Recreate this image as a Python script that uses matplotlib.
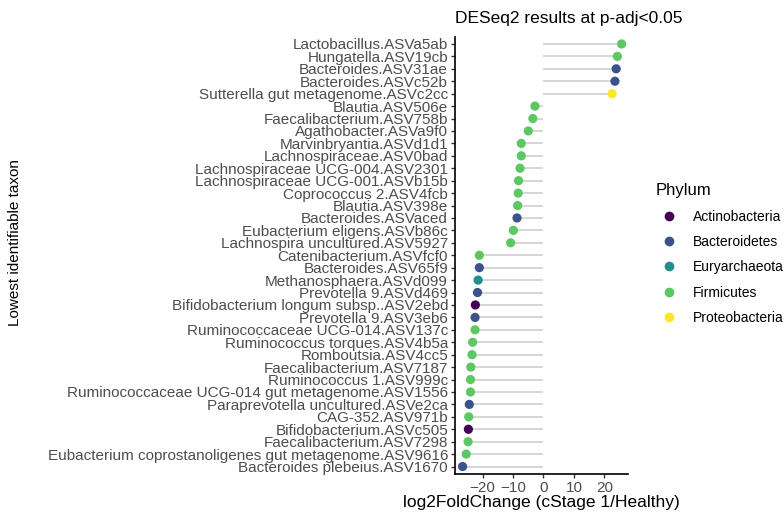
import matplotlib.pyplot as plt
from matplotlib.lines import Line2D

plt.rcParams['font.family'] = ['Liberation Sans', 'DejaVu Sans']

taxa = [
    'Lactobacillus.ASVa5ab', 'Hungatella.ASV19cb', 'Bacteroides.ASV31ae',
    'Bacteroides.ASVc52b', 'Sutterella gut metagenome.ASVc2cc', 'Blautia.ASV506e',
    'Faecalibacterium.ASV758b', 'Agathobacter.ASVa9f0', 'Marvinbryantia.ASVd1d1',
    'Lachnospiraceae.ASV0bad', 'Lachnospiraceae UCG-004.ASV2301',
    'Lachnospiraceae UCG-001.ASVb15b', 'Coprococcus 2.ASV4fcb', 'Blautia.ASV398e',
    'Bacteroides.ASVaced', 'Eubacterium eligens.ASVb86c',
    'Lachnospira uncultured.ASV5927', 'Catenibacterium.ASVfcf0',
    'Bacteroides.ASV65f9', 'Methanosphaera.ASVd099', 'Prevotella 9.ASVd469',
    'Bifidobacterium longum subsp..ASV2ebd', 'Prevotella 9.ASV3eb6',
    'Ruminococcaceae UCG-014.ASV137c', 'Ruminococcus torques.ASV4b5a',
    'Romboutsia.ASV4cc5', 'Faecalibacterium.ASV7187', 'Ruminococcus 1.ASV999c',
    'Ruminococcaceae UCG-014 gut metagenome.ASV1556',
    'Paraprevotella uncultured.ASVe2ca', 'CAG-352.ASV971b',
    'Bifidobacterium.ASVc505', 'Faecalibacterium.ASV7298',
    'Eubacterium coprostanoligenes gut metagenome.ASV9616',
    'Bacteroides plebeius.ASV1670',
]
lfc = [25.7, 24.3, 23.9, 23.5, 22.6, -2.8, -3.5, -5.0, -7.3, -7.3, -7.7, -8.2,
       -8.3, -8.5, -8.7, -9.9, -10.8, -21.1, -21.1, -21.5, -21.7, -22.4, -22.5,
       -22.5, -23.3, -23.5, -23.9, -24.0, -24.0, -24.4, -24.6, -24.7, -24.8,
       -25.4, -26.6]
phylum = ['Firmicutes', 'Firmicutes', 'Bacteroidetes', 'Bacteroidetes',
          'Proteobacteria', 'Firmicutes', 'Firmicutes', 'Firmicutes', 'Firmicutes',
          'Firmicutes', 'Firmicutes', 'Firmicutes', 'Firmicutes', 'Firmicutes',
          'Bacteroidetes', 'Firmicutes', 'Firmicutes', 'Firmicutes', 'Bacteroidetes',
          'Euryarchaeota', 'Bacteroidetes', 'Actinobacteria', 'Bacteroidetes',
          'Firmicutes', 'Firmicutes', 'Firmicutes', 'Firmicutes', 'Firmicutes',
          'Firmicutes', 'Bacteroidetes', 'Firmicutes', 'Actinobacteria',
          'Firmicutes', 'Firmicutes', 'Bacteroidetes']

phyla = ['Actinobacteria', 'Bacteroidetes', 'Euryarchaeota', 'Firmicutes', 'Proteobacteria']
pal = {'Actinobacteria': '#440154', 'Bacteroidetes': '#3B528B',
       'Euryarchaeota': '#21908C', 'Firmicutes': '#5DC863',
       'Proteobacteria': '#FDE725'}

fig = plt.figure(figsize=(7.84, 5.14), dpi=100)
ax = fig.add_axes([455 / 784, 1 - 474 / 514, (628 - 455) / 784, (474 - 36.5) / 514])

n = len(taxa)
ypos = list(range(n, 0, -1))
ax.hlines(ypos, 0, lfc, color='#D3D3D3', lw=1.3, zorder=1)
ax.scatter(lfc, ypos, c=[pal[p] for p in phylum], s=44, zorder=2, linewidths=0)

ax.set_ylim(0.4, n + 0.6)
ax.set_xlim(-29.1, 27.8)
ax.set_yticks(ypos)
ax.set_yticklabels(taxa)
ax.set_xticks([-20, -10, 0, 10, 20])
ax.tick_params(axis='both', colors='#333333', labelcolor='#4D4D4D',
               labelsize=11, length=3, width=1, pad=2)
for s in ['top', 'right']:
    ax.spines[s].set_visible(False)
for s in ['left', 'bottom']:
    ax.spines[s].set_linewidth(1.2)

ax.set_xlabel('log2FoldChange (cStage 1/Healthy)', fontsize=12.5, labelpad=0)
ax.set_title('DESeq2 results at p-adj<0.05', fontsize=12.5, loc='center', pad=10,
             x=0.655)
fig.text(0.019, 1 - 243 / 514, 'Lowest identifiable taxon', rotation=90,
         fontsize=11, va='center', ha='center')

handles = [Line2D([], [], ls='', marker='o', ms=7, color=pal[p], mec='none')
           for p in phyla]
leg = fig.legend(handles, phyla, title='Phylum', loc='upper left',
                 bbox_to_anchor=(0.82, 0.668), frameon=False, fontsize=10,
                 title_fontsize=12, labelspacing=0.82, handletextpad=0.7,
                 alignment='left')

fig.savefig('out.png', dpi=100)
